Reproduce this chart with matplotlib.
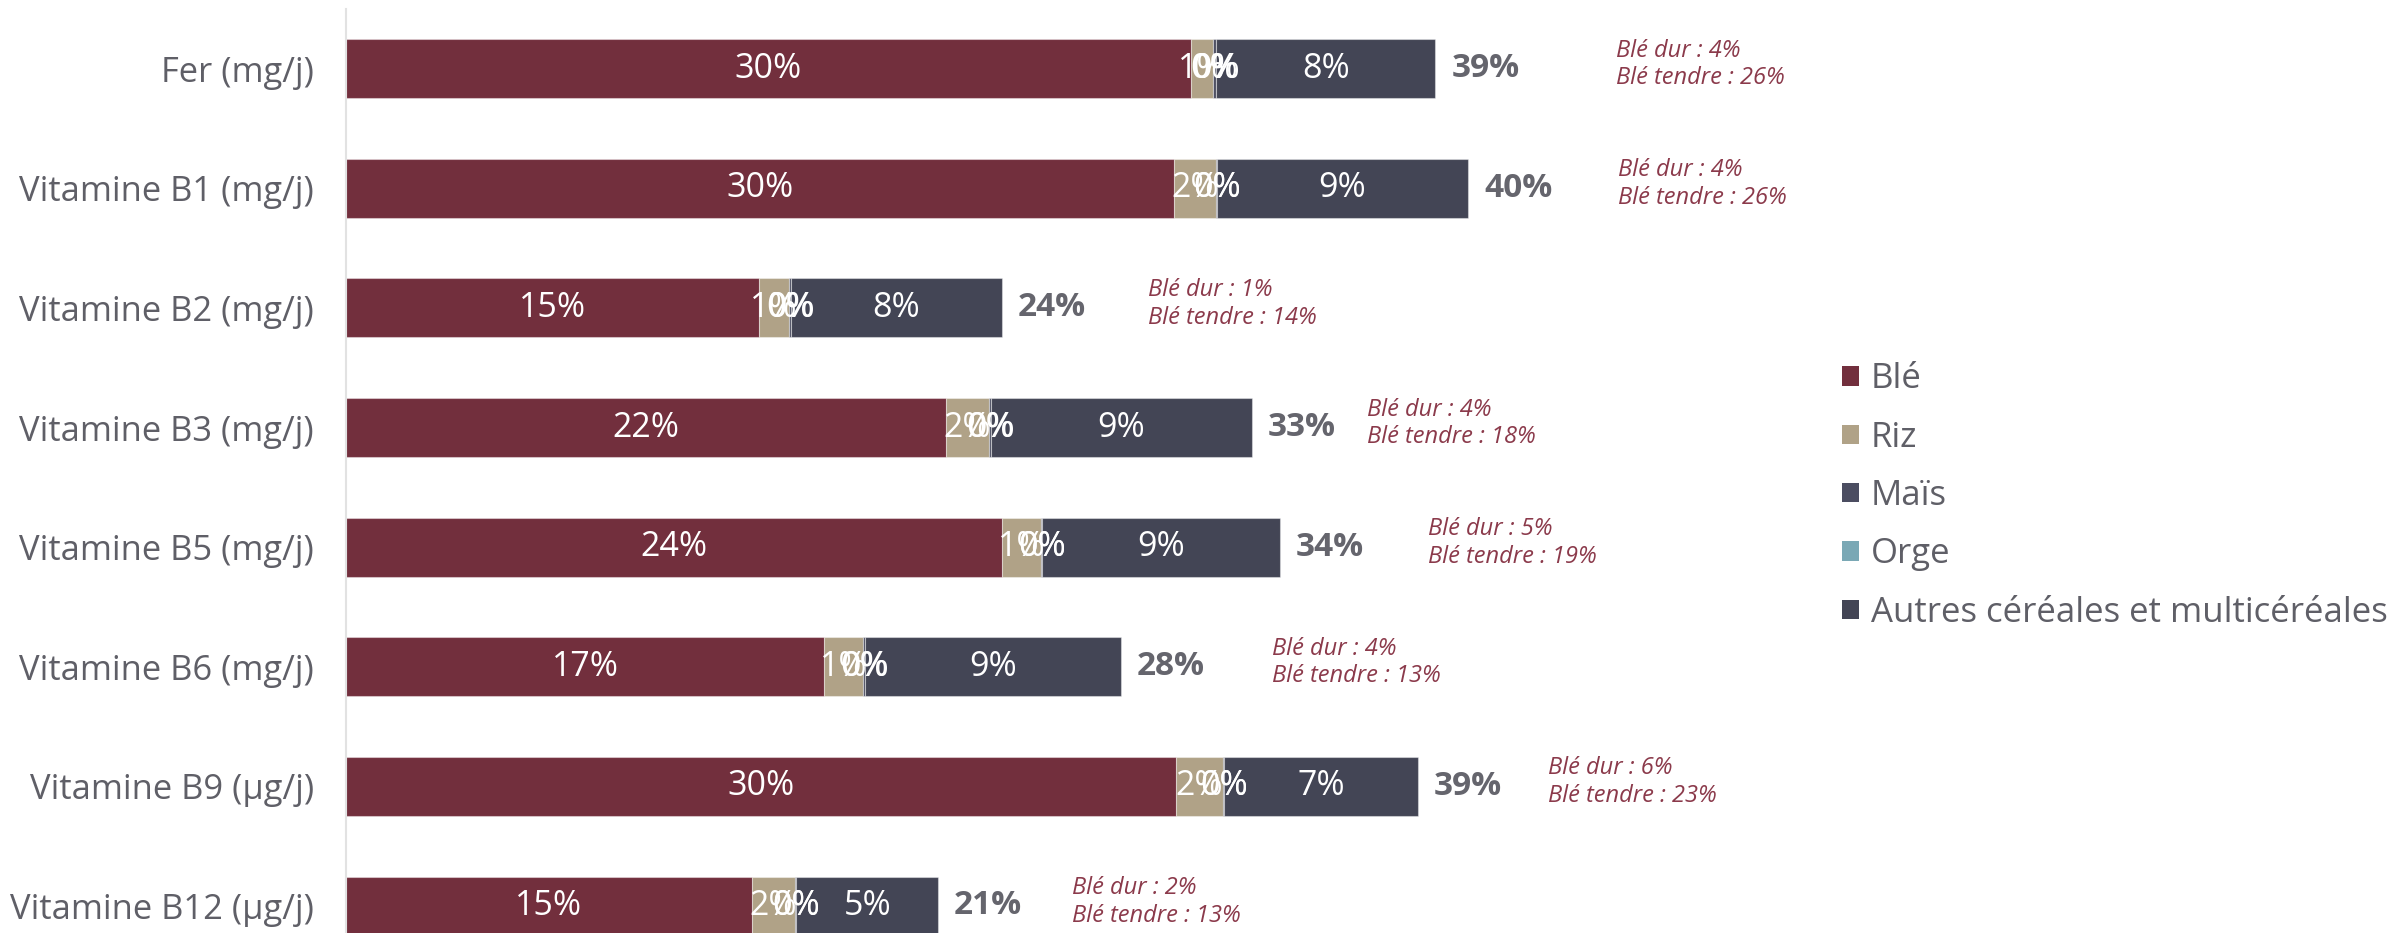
import matplotlib
matplotlib.use("Agg")
import matplotlib.pyplot as plt
from matplotlib.patches import Patch

plt.rcParams['font.family'] = ['Open Sans', 'DejaVu Sans']

# Part des apports journaliers couverts par les céréales (%)
categories = ["Fer (mg/j)", "Vitamine B1 (mg/j)", "Vitamine B2 (mg/j)", "Vitamine B3 (mg/j)",
              "Vitamine B5 (mg/j)", "Vitamine B6 (mg/j)", "Vitamine B9 (µg/j)", "Vitamine B12 (µg/j)"]
ble    = [30.4, 29.8, 14.85, 21.6, 23.6, 17.2, 29.85, 14.6]
riz    = [0.79, 1.51, 1.1, 1.52, 1.4, 1.4, 1.7, 1.55]
mais   = [0.1, 0.02, 0.05, 0.07, 0.05, 0.07, 0.05, 0.05]
orge   = [0.0, 0.0, 0.0, 0.0, 0.0, 0.0, 0.0, 0.0]
autres = [7.9, 9.03, 7.6, 9.4, 8.55, 9.2, 6.95, 5.1]
ble_dur    = [4, 4, 1, 4, 5, 4, 6, 2]
ble_tendre = [26, 26, 14, 18, 19, 13, 23, 13]

series = [("Blé", ble, "#722f3d"),
          ("Riz", riz, "#b0a287"),
          ("Maïs", mais, "#4b4d61"),
          ("Orge", orge, "#7aa8b5"),
          ("Autres céréales et multicéréales", autres, "#434555")]

W, H = 2387, 933
fig = plt.figure(figsize=(W / 100, H / 100), dpi=100)
x0 = 346
ax = fig.add_axes([x0 / W, 0, 1 - x0 / W, 1])

px_per_pct = 27.8
ax.set_xlim(0, (W - x0) / px_per_pct)
ax.set_ylim(7 + 27 / 119.6, -68.7 / 119.6)

ypos = list(range(len(categories)))
left = [0.0] * len(categories)
handles = []
for name, vals, color in series:
    ax.barh(ypos, vals, left=left, height=0.493, color=color,
            edgecolor=(1, 1, 1, 0.4), linewidth=0.8)
    for y, l, v in zip(ypos, left, vals):
        ax.text(l + v / 2, y, f"{round(v)}%", ha="center", va="center",
                color="white", fontsize=24.5)
    left = [a + b for a, b in zip(left, vals)]
    handles.append(Patch(facecolor=color, label=name))

# totals and wheat breakdown
annot_dx = [181, 150, 146, 115, 148, 151, 130, 134]
for y, tot, bd, bt, dx in zip(ypos, left, ble_dur, ble_tendre, annot_dx):
    ax.annotate(f"{round(tot)}%", (tot, y), xytext=(11.5, 0), textcoords="offset points",
                ha="left", va="center", fontsize=24, fontweight="bold", color="#65656d")
    ax.annotate(f"Blé dur : {bd}%\nBlé tendre : {bt}%", (tot, y),
                xytext=(dx * 0.72, 3), textcoords="offset points",
                ha="left", va="center", fontsize=17, fontstyle="italic",
                color="#8b3a4b", linespacing=1.2)

ax.set_yticks(ypos)
ax.set_yticklabels(categories, fontsize=24.8, color="#5f5f67")
ax.tick_params(axis="y", length=0, pad=23)
ax.set_xticks([])
for s in ("top", "right", "bottom"):
    ax.spines[s].set_visible(False)
ax.spines["left"].set_color("#e2e2e2")
ax.spines["left"].set_linewidth(1.5)
ax.spines["left"].set_bounds(-0.5, 7.3)

leg = ax.legend(handles=handles, loc="center left", bbox_to_anchor=(1842 / W, 1 - 496 / H),
                bbox_transform=fig.transFigure, frameon=False, fontsize=25,
                handlelength=0.48, handleheight=0.48, handletextpad=0.35,
                labelspacing=0.70, borderpad=0, borderaxespad=0)
for t in leg.get_texts():
    t.set_color("#5f5f67")

fig.savefig("out.png", dpi=100)
